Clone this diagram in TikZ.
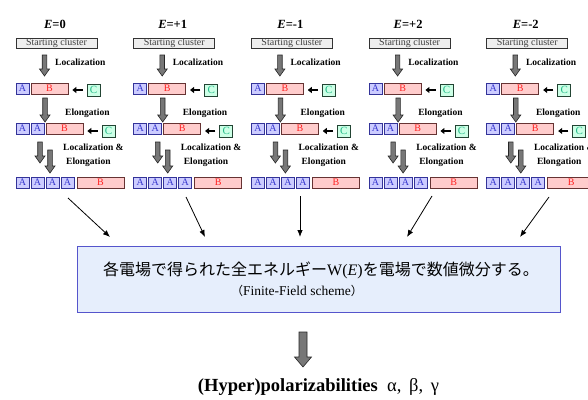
\documentclass[tikz,border=0pt]{standalone}
\usepackage{fontspec}
\setmainfont{Liberation Serif}
\newfontfamily\jpfont{Noto Sans CJK JP}
\usetikzlibrary{arrows.meta}

\definecolor{afill}{HTML}{CCCCFF}
\definecolor{aline}{HTML}{333399}
\definecolor{atext}{HTML}{3333CC}
\definecolor{bfill}{HTML}{FFCCCC}
\definecolor{bline}{HTML}{663333}
\definecolor{btext}{HTML}{FF2222}
\definecolor{cfill}{HTML}{CCFFE6}
\definecolor{cline}{HTML}{224433}
\definecolor{ctext}{HTML}{22BB88}
\definecolor{sfill}{HTML}{EEEEEE}
\definecolor{garrow}{HTML}{777777}
\definecolor{boxfill}{HTML}{E6EEFC}
\definecolor{boxline}{HTML}{5555CC}

% block arrow pointing down: start, length, shaft half width, head half width, head length
\newcommand\fatarrow[5]{%
  \filldraw[fatarr] #1 ++(-#3,0) -- ++(2*#3,0) -- ++(0,#2-#5) -- ++(#4-#3,0)
    -- ++(-#4,#5) -- ++(-#4,-#5) -- ++(#4-#3,0) -- cycle;}

\begin{document}
\begin{tikzpicture}[x=1pt,y=-1pt,
  cell/.style={draw, line width=0.7pt, inner sep=0pt, minimum height=11pt,
    font=\fontsize{10}{12}\selectfont},
  acell/.style={cell, fill=afill, draw=aline, text=atext, minimum width=13pt},
  bcell/.style={cell, fill=bfill, draw=bline, text=btext},
  ccell/.style={cell, fill=cfill, draw=cline, text=ctext, minimum width=13pt,
    minimum height=12pt, font=\fontsize{11}{12}\selectfont},
  startbox/.style={draw=black!80, fill=sfill, line width=0.7pt, inner sep=0pt,
    minimum width=81pt, minimum height=10pt, font=\fontsize{10}{11}\selectfont, text=black!75},
  steplabel/.style={anchor=west, inner sep=0pt, align=left,
    font=\bfseries\fontsize{9.5}{14}\selectfont},
  elabel/.style={font=\bfseries\fontsize{12.5}{14}\selectfont},
  fatarr/.style={fill=garrow, draw=black!85, line width=0.6pt},
  pusharrow/.style={line width=1.4pt, -{Triangle[length=4pt,width=6pt]}},
  feed/.style={line width=0.8pt, -{Latex[length=7pt,width=5.5pt]}},
]
\useasboundingbox (0,0) rectangle (588,399);
\clip (0,0) rectangle (588,399);

\foreach \k/\ev in {0/0,1/+1,2/-1,3/+2,4/-2}{
\begin{scope}[shift={(\k*117.7,0)}]
  \node[elabel] (e\k) at (55,24) {\textit{E}=\ev};
  \node[startbox] (s\k) at (56.5,43) {Starting cluster};

  % localization step
  \fatarrow{(44.5,55)}{21}{2.3}{5}{7}
  \node[steplabel] (l\k) at (55,62) {Localization};
  \node[acell] (ra\k) at (22.5,88.5) {A};
  \node[bcell, minimum width=37pt] (rb\k) at (49.5,88.5) {B};
  \node[ccell] (rc\k) at (93.5,90) {C};
  \draw[pusharrow] ([xshift=-4pt]rc\k.west) -- ([xshift=4pt]rc\k.west -| rb\k.east);

  % elongation step
  \fatarrow{(45,98)}{24}{2.3}{5}{7}
  \node[steplabel] (g\k) at (65,113) {Elongation};
  \node[acell] (sa\k) at (22.5,128.5) {A};
  \node[acell] (sb\k) at (37.5,128.5) {A};
  \node[bcell, minimum width=37pt] (sc\k) at (64.5,128.5) {B};
  \node[ccell] (sd\k) at (108.5,131) {C};
  \draw[pusharrow] ([xshift=-4pt]sd\k.west) -- ([xshift=4pt]sd\k.west -| sc\k.east);

  % localization & elongation step
  \fatarrow{(40,142)}{21}{2.3}{5}{7}
  \fatarrow{(50,150)}{23}{2.3}{5}{7}
  \node[steplabel] (m\k) at (63,155) {Localization \&\\\hspace*{3pt}Elongation};
  \node[acell] (ta\k) at (22.5,182.5) {A};
  \node[acell] (tb\k) at (37.5,182.5) {A};
  \node[acell] (tc\k) at (52.5,182.5) {A};
  \node[acell] (td\k) at (67.5,182.5) {A};
  \node[bcell, minimum width=47pt] (te\k) at (100.5,182.5) {B};
\end{scope}}

% summary box
\node[draw=boxline, fill=boxfill, line width=1pt, minimum width=483pt,
  minimum height=66pt, inner sep=0pt] (sum) at (318.5,279) {};
\node[font=\jpfont\fontsize{16}{18}\selectfont] (jp) at (321,270)
  {各電場で得られた全エネルギー{\rmfamily W(\textit{E})}を電場で数値微分する。};
\node[font=\fontsize{13.5}{15}\selectfont] (ff) at (297,291)
  {{\jpfont\fontsize{12}{14}\selectfont （}Finite-Field scheme{\jpfont\fontsize{12}{14}\selectfont ）}};

% energies of every field feed the numerical differentiation
\coordinate (f0) at (68,198);   \coordinate (h0) at (110,237);
\coordinate (f1) at (186,197);  \coordinate (h1) at (205,237);
\coordinate (f2) at (300,196);  \coordinate (h2) at (300,237);
\coordinate (f3) at (432,196);  \coordinate (h3) at (407,237);
\coordinate (f4) at (549,197);  \coordinate (h4) at (520,237);
\foreach \i in {0,...,4} \draw[feed] (f\i) -- (h\i);

% result
\fatarrow{(303,332)}{35}{4}{8.5}{10}
\node[font=\bfseries\fontsize{18.5}{20}\selectfont] (res) at (318.5,387)
  {(Hyper)polarizabilities\ \ {\mdseries α,\, β,\, γ}};
\end{tikzpicture}
\end{document}
